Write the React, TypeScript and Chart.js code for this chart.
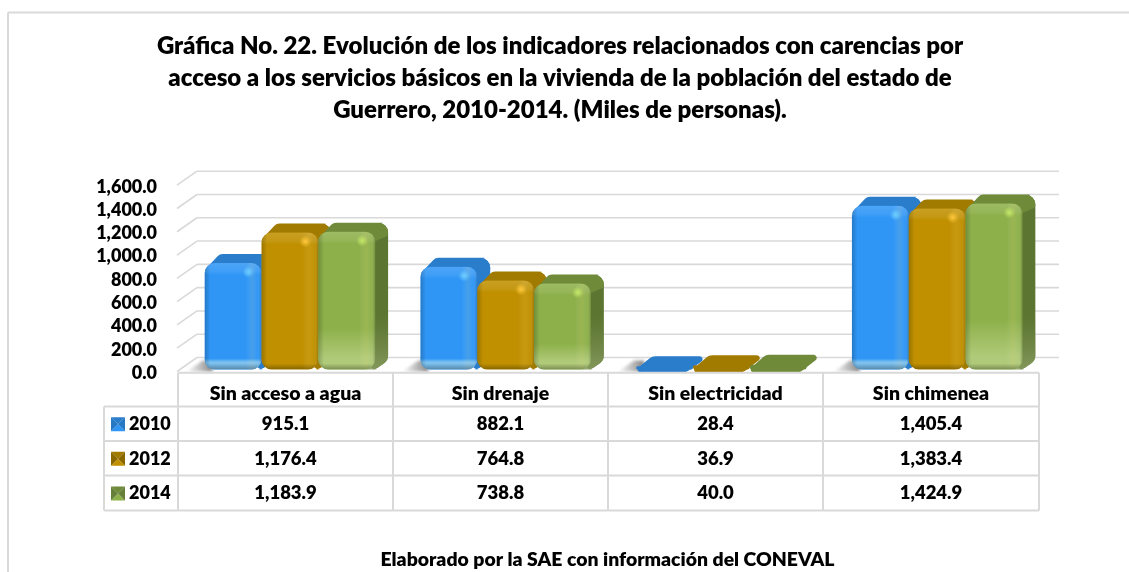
import React, { useEffect, useRef } from "react";
import { Chart, registerables } from "chart.js";

Chart.register(...registerables);

const categories = ["Sin acceso a agua", "Sin drenaje", "Sin electricidad", "Sin chimenea"];
const years = ["2010", "2012", "2014"];
const values2010 = [915.1, 882.1, 28.4, 1405.4];
const values2012 = [1176.4, 764.8, 36.9, 1383.4];
const values2014 = [1183.9, 738.8, 40.0, 1424.9];
const seriesValues = [values2010, values2012, values2014];
const yTicks = [0, 200, 400, 600, 800, 1000, 1200, 1400, 1600];
const titleLines = [
  "Gráfica No. 22. Evolución de los indicadores relacionados con carencias por",
  "acceso a los servicios básicos en la vivienda de la población del estado de",
  "Guerrero, 2010-2014. (Miles de personas).",
];
const footerText = "Elaborado por la SAE con información del CONEVAL";

const FONT = "Lato, sans-serif";
const WEIGHT = "800";
const GRID = "#d9d9d9";
const palette = [
  { front: "#2f96f6", top: "#2a7dca", side: "#2a7dca", spot: "#6fd0ff", low: "#7cc0ee", edge: "#2478c4" },
  { front: "#c09000", top: "#a17a00", side: "#a17a00", spot: "#ffc83a", low: "#c09000", edge: "#8a6800" },
  { front: "#8db04a", top: "#6f8b3a", side: "#5c7530", spot: "#c4e868", low: "#afca78", edge: "#66803a" },
];

const fmt = (v: number) =>
  v.toLocaleString("en-US", { minimumFractionDigits: 1, maximumFractionDigits: 1 });

function poly(ctx: CanvasRenderingContext2D, pts: number[][], r: number) {
  const n = pts.length;
  const m0 = [(pts[n - 1][0] + pts[0][0]) / 2, (pts[n - 1][1] + pts[0][1]) / 2];
  ctx.beginPath();
  ctx.moveTo(m0[0], m0[1]);
  for (let i = 0; i < n; i++) {
    const a = pts[i];
    const b = pts[(i + 1) % n];
    ctx.arcTo(a[0], a[1], b[0], b[1], a[2] ?? r);
  }
  ctx.closePath();
}

function line(ctx: CanvasRenderingContext2D, x1: number, y1: number, x2: number, y2: number) {
  ctx.beginPath();
  ctx.moveTo(x1, y1);
  ctx.lineTo(x2, y2);
  ctx.stroke();
}

const DEPTH_X = 13;
const DEPTH_Y = 9;
const BAR_LIFT = -3.5;
const RADIUS = 10;

const scenePlugin = {
  id: "scene",
  beforeDraw(chart: any) {
    const { ctx } = chart;
    const y = chart.scales.y;
    ctx.save();
    ctx.strokeStyle = GRID;
    ctx.lineWidth = 2;
    line(ctx, 8, 12.5, 1129, 12.5);
    line(ctx, 8, 12.5, 8, 572);
    ctx.lineWidth = 1.6;
    yTicks.forEach((t) => {
      const p = y.getPixelForValue(t);
      line(ctx, 177, p - 1.5, 197, p - 15.5);
      line(ctx, 197, p - 15.5, 1059, p - 15.5);
    });
    ctx.restore();
  },
  beforeDatasetsDraw(chart: any) {
    const { ctx } = chart;
    ctx.save();
    ctx.translate(0, BAR_LIFT);
    // floor shadow
    ctx.save();
    ctx.filter = "blur(1.5px)";
    chart.getDatasetMeta(0).data.forEach((el: any) => {
      const x0 = el.x - el.width / 2;
      const b = el.base;
      const g = ctx.createLinearGradient(x0 - 20, 0, x0 + 6, 0);
      g.addColorStop(0, "rgba(130,130,130,0)");
      g.addColorStop(1, "rgba(100,100,100,0.75)");
      ctx.fillStyle = g;
      ctx.beginPath();
      ctx.moveTo(x0 - 18, b + 2);
      ctx.lineTo(x0 - 2, b - 9);
      ctx.lineTo(x0 + 8, b - 9);
      ctx.lineTo(x0 + 8, b + 2);
      ctx.closePath();
      ctx.fill();
    });
    ctx.restore();

    chart.data.datasets.forEach((_: any, i: number) => {
      const meta = chart.getDatasetMeta(i);
      const c = palette[i];
      meta.data.forEach((el: any) => {
        const x0 = el.x - el.width / 2;
        const x1 = el.x + el.width / 2;
        const t = el.y;
        const b = el.base;
        const h = b - t;
        if (h < 20) return;
        // side face
        ctx.fillStyle = c.side;
        poly(
          ctx,
          [
            [x1 - 8, t],
            [x1 - 8 + DEPTH_X, t - DEPTH_Y],
            [x1 + DEPTH_X, t - DEPTH_Y],
            [x1 + DEPTH_X, b - DEPTH_Y],
            [x1, b],
            [x1 - 8, b],
          ],
          RADIUS,
        );
        ctx.fill();
        if (i === 2 && h > 60) {
          const g = ctx.createLinearGradient(0, b - 55, 0, b);
          g.addColorStop(0, "rgba(120,140,80,0)");
          g.addColorStop(1, "rgba(135,155,95,0.9)");
          ctx.fillStyle = g;
          poly(ctx, [[x1 - 2, b - 60], [x1 + DEPTH_X, b - 60], [x1 + DEPTH_X, b - DEPTH_Y], [x1, b], [x1 - 2, b]], 8);
          ctx.fill();
        }
        // top face
        ctx.fillStyle = c.top;
        poly(
          ctx,
          [
            [x0 - 1, t + 8, 3],
            [x0 + 15, t - DEPTH_Y, 7],
            [x1 + DEPTH_X, t - DEPTH_Y, RADIUS],
            [x1 + DEPTH_X, t + 4, 3],
            [x1 - 6, t + 12, 2],
            [x0 + 6, t + 12, 2],
          ],
          RADIUS,
        );
        ctx.fill();
      });

      // the bars themselves, through the library's own element drawing
      meta.controller.draw();

      meta.data.forEach((el: any) => {
        const x0 = el.x - el.width / 2;
        const x1 = el.x + el.width / 2;
        const t = el.y;
        const b = el.base;
        const w = x1 - x0;
        const h = b - t;
        if (h < 20) {
          // nearly flat bars show only a leaf-shaped top
          ctx.fillStyle = c.top;
          poly(
            ctx,
            [
              [x0 - 4, b + 3, 3],
              [x0 + 16, t - 10, 9],
              [x1 + DEPTH_X + 3, t - 10, 3],
              [x1 - 7, b + 3, 9],
            ],
            5,
          );
          ctx.fill();
          return;
        }
        ctx.save();
        ctx.beginPath();
        ctx.roundRect(x0, t, w, h, RADIUS);
        ctx.clip();

        if (c.low !== c.front) {
          const bandH = i === 2 ? Math.min(h * 0.3, 62) : 9;
          const lg = ctx.createLinearGradient(0, b - bandH - (i === 0 ? 2 : 0), 0, b - 4);
          lg.addColorStop(0, c.low + "00");
          lg.addColorStop(i === 0 ? 0.5 : 0.8, c.low);
          lg.addColorStop(1, c.low);
          ctx.fillStyle = lg;
          ctx.fillRect(x0, b - bandH - 3, w, bandH + 3);
        }

        const hg = ctx.createLinearGradient(x0, 0, x1, 0);
        hg.addColorStop(0, "rgba(0,0,0,0.2)");
        hg.addColorStop(0.1, "rgba(0,0,0,0)");
        hg.addColorStop(0.72, "rgba(255,255,255,0)");
        hg.addColorStop(0.84, "rgba(255,220,120,0.12)");
        hg.addColorStop(0.93, "rgba(255,255,255,0.02)");
        hg.addColorStop(1, "rgba(0,0,0,0.2)");
        ctx.fillStyle = hg;
        ctx.fillRect(x0, t, w, h);

        const tg = ctx.createLinearGradient(0, t, 0, t + 12);
        tg.addColorStop(0, "rgba(255,255,255,0.14)");
        tg.addColorStop(0.7, "rgba(255,255,255,0.08)");
        tg.addColorStop(1, "rgba(255,255,255,0)");
        ctx.fillStyle = tg;
        ctx.fillRect(x0, t, w, 12);

        const bg = ctx.createLinearGradient(0, b - 6, 0, b);
        bg.addColorStop(0, "rgba(0,0,0,0)");
        bg.addColorStop(1, "rgba(0,0,0,0.3)");
        ctx.fillStyle = bg;
        ctx.fillRect(x0, b - 6, w, 6);

        const sx = x1 - 13;
        const sy = t + 9;
        const rg = ctx.createRadialGradient(sx, sy, 0, sx, sy, 6);
        rg.addColorStop(0, c.spot);
        rg.addColorStop(1, c.spot + "00");
        ctx.fillStyle = rg;
        ctx.fillRect(sx - 6, sy - 6, 12, 12);
        ctx.restore();
      });
    });
    ctx.restore();
    return false;
  },
  afterDraw(chart: any) {
    const { ctx } = chart;
    const colX = [178, 393, 608, 823, 1039];
    const rowY = [406.5, 441, 475.5, 510.5];
    const tableTop = 372.7;
    ctx.save();
    ctx.strokeStyle = GRID;
    ctx.lineWidth = 2;
    line(ctx, 178, tableTop, 1039, tableTop);
    colX.forEach((x) => line(ctx, x, tableTop, x, rowY[3]));
    rowY.forEach((y) => line(ctx, 104, y, 1039, y));
    line(ctx, 104, rowY[0], 104, rowY[3]);

    ctx.fillStyle = "#000";
    ctx.textAlign = "center";
    ctx.textBaseline = "middle";
    categories.forEach((cat, i) => {
      const cx = (colX[i] + colX[i + 1]) / 2;
      ctx.font = `${WEIGHT} 19.5px ${FONT}`;
      ctx.fillText(cat, cx, 393.5);
      ctx.font = `${WEIGHT} 18.5px ${FONT}`;
      seriesValues.forEach((vals, r) => {
        ctx.fillText(fmt(vals[i]), cx, (rowY[r] + rowY[r + 1]) / 2 + 0.5);
      });
    });

    ctx.font = `${WEIGHT} 18px ${FONT}`;
    years.forEach((yr, r) => {
      const cy = (rowY[r] + rowY[r + 1]) / 2;
      ctx.textAlign = "left";
      ctx.fillStyle = "#000";
      ctx.fillText(yr, 129, cy + 0.5);
      const c = palette[r];
      const [l, t, s] = [111, cy - 6.5, 14];
      const mx = l + s / 2;
      const my = t + s / 2;
      const faces: [string, number[][]][] = [
        [c.top, [[l, t], [l + s, t], [mx, my]]],
        [c.front, [[l, t + s], [l + s, t + s], [mx, my]]],
        [c.edge, [[l, t], [l, t + s], [mx, my]]],
        [c.edge, [[l + s, t], [l + s, t + s], [mx, my]]],
      ];
      faces.forEach(([col, pts]) => {
        ctx.fillStyle = col;
        ctx.beginPath();
        pts.forEach((p, k) => (k ? ctx.lineTo(p[0], p[1]) : ctx.moveTo(p[0], p[1])));
        ctx.closePath();
        ctx.fill();
      });
    });

    ctx.fillStyle = "#000";
    ctx.textAlign = "center";
    ctx.font = `${WEIGHT} 19.4px ${FONT}`;
    ctx.fillText(footerText, 607.5, 560);
    ctx.restore();
  },
};

export default function App() {
  const ref = useRef<HTMLCanvasElement>(null);
  useEffect(() => {
    if (!ref.current) return;
    const chart = new Chart(ref.current, {
      type: "bar",
      data: {
        labels: categories,
        datasets: years.map((yr, i) => ({
          label: yr,
          data: seriesValues[i],
          backgroundColor: (c: any) =>
            c.parsed && c.parsed.y < 100 ? palette[i].top : palette[i].front,
          borderRadius: RADIUS,
          borderSkipped: false,
          barPercentage: 1,
          categoryPercentage: 0.79,
        })),
      },
      plugins: [scenePlugin],
      options: {
        responsive: false,
        animation: false,
        layout: { autoPadding: false, padding: { top: 0, left: 0, right: 9, bottom: 199 } },
        plugins: {
          legend: { display: false },
          tooltip: { enabled: false },
          title: {
            display: true,
            text: titleLines,
            color: "#000",
            align: "center",
            font: { family: FONT, size: 24, weight: WEIGHT, lineHeight: 32 / 24 },
            padding: { top: 30, bottom: 60.7 },
          },
        },
        scales: {
          x: { display: false },
          y: {
            min: 0,
            max: 1600,
            afterFit: (s: any) => {
              s.width = 182;
            },
            afterBuildTicks: (s: any) => {
              s.ticks = yTicks.map((value) => ({ value }));
            },
            grid: { display: false },
            border: { display: false },
            ticks: {
              color: "#000",
              padding: 17,
              autoSkip: false,
              font: { family: FONT, size: 18, weight: WEIGHT },
              callback: (v: any) => fmt(Number(v)),
            },
          },
          r: {
            position: "right",
            min: 0,
            max: 1,
            afterFit: (s: any) => {
              s.width = 75;
            },
            grid: { display: false },
            border: { display: false },
            ticks: { display: false },
          },
        },
      },
    } as any);
    return () => chart.destroy();
  }, []);
  return (
    <canvas
      ref={ref}
      width={1129}
      height={572}
      style={{ position: "absolute", left: 0, top: 0, display: "block" }}
    />
  );
}
